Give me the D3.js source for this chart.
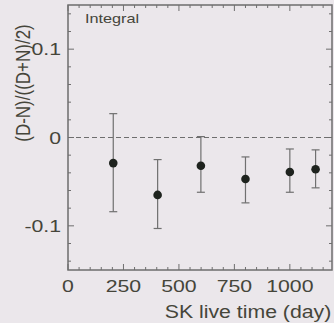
<!DOCTYPE html>
<html>
<head>
<meta charset="utf-8">
<script src="https://cdn.jsdelivr.net/npm/d3@7"></script>
<style>
  html, body { margin: 0; padding: 0; background: #ebe7eb; }
  svg { display: block; }
</style>
</head>
<body>
<script>
// data
const days = [204, 404, 599, 800, 1000, 1116];
const asym = [-0.029, -0.065, -0.032, -0.047, -0.039, -0.036];
const errHi = [0.027, -0.025, 0.001, -0.022, -0.013, -0.014];
const errLo = [-0.084, -0.103, -0.062, -0.074, -0.062, -0.057];
const xTicks = [0, 250, 500, 750, 1000];
const yTicks = [-0.1, 0, 0.1];
const yTickLabels = ["-0.1", "0", "0.1"];

const width = 334, height = 323;
const plotL = 68, plotR = 332, plotT = 5, plotB = 270;
const ink = "#45453a", frame = "#6e6e6e";
const stretch = 1.25; // the original type is wider than it is tall

const svg = d3.select("body").append("svg")
  .attr("width", width)
  .attr("height", height)
  .style("font-family", "'Liberation Sans', Arial, sans-serif");

const x = d3.scaleLinear().domain([0, 1190]).range([plotL, plotR]);
const y = d3.scaleLinear().domain([-0.15, 0.15]).range([plotB, plotT]);

// frame
svg.append("rect")
  .attr("x", plotL).attr("y", plotT)
  .attr("width", plotR - plotL).attr("height", plotB - plotT)
  .attr("fill", "none").attr("stroke", frame).attr("stroke-width", 1.5);

// ticks (inside, all four sides)
const xMinor = d3.range(0, 1190, 50);
const yMinor = d3.range(-0.14, 0.15, 0.02);
const tickG = svg.append("g").attr("stroke", frame).attr("stroke-width", 1);
xMinor.forEach(v => {
  const len = v % 250 === 0 ? 6 : 3;
  tickG.append("line").attr("x1", x(v)).attr("x2", x(v)).attr("y1", plotB).attr("y2", plotB - len);
  tickG.append("line").attr("x1", x(v)).attr("x2", x(v)).attr("y1", plotT).attr("y2", plotT + len);
});
yMinor.forEach(v => {
  const major = Math.abs(Math.round(v * 10) - v * 10) < 1e-6;
  const len = major ? 6 : 3;
  tickG.append("line").attr("y1", y(v)).attr("y2", y(v)).attr("x1", plotL).attr("x2", plotL + len);
  tickG.append("line").attr("y1", y(v)).attr("y2", y(v)).attr("x1", plotR).attr("x2", plotR - len);
});

// tick labels
svg.append("g").selectAll("text")
  .data(xTicks)
  .join("text")
  .attr("transform", d => `translate(${x(d)},291.5) scale(${stretch},1)`)
  .attr("text-anchor", "middle")
  .attr("font-size", 17)
  .attr("fill", ink)
  .text(d => d);

svg.append("g").selectAll("text")
  .data(yTicks)
  .join("text")
  .attr("transform", d => `translate(61,${y(d) + 6}) scale(${stretch},1)`)
  .attr("text-anchor", "end")
  .attr("font-size", 17)
  .attr("fill", ink)
  .text((d, i) => yTickLabels[i]);

// zero line
svg.append("line")
  .attr("x1", plotL).attr("x2", plotR)
  .attr("y1", y(0)).attr("y2", y(0))
  .attr("stroke", frame).attr("stroke-width", 1.2)
  .attr("stroke-dasharray", "5,3");

// error bars and points
const pts = days.map((d, i) => ({ d, v: asym[i], hi: errHi[i], lo: errLo[i] }));
const eb = svg.append("g").attr("stroke", "#707070").attr("stroke-width", 1.2);
pts.forEach(p => {
  eb.append("line").attr("x1", x(p.d)).attr("x2", x(p.d)).attr("y1", y(p.hi)).attr("y2", y(p.lo));
  eb.append("line").attr("x1", x(p.d) - 4).attr("x2", x(p.d) + 4).attr("y1", y(p.hi)).attr("y2", y(p.hi));
  eb.append("line").attr("x1", x(p.d) - 4).attr("x2", x(p.d) + 4).attr("y1", y(p.lo)).attr("y2", y(p.lo));
});
svg.append("g").selectAll("circle")
  .data(pts)
  .join("circle")
  .attr("cx", p => x(p.d))
  .attr("cy", p => y(p.v))
  .attr("r", 4.3)
  .attr("fill", "#1e231e");

// labels
svg.append("text")
  .attr("transform", `translate(85,23) scale(${stretch},1)`)
  .attr("font-size", 13)
  .attr("fill", ink)
  .text("Integral");

svg.append("text")
  .attr("transform", "translate(248,317.5) scale(1.15,1)")
  .attr("text-anchor", "middle")
  .attr("font-size", 18.5)
  .attr("fill", ink)
  .text("SK live time (day)");

svg.append("text")
  .attr("transform", "translate(30,83) rotate(-90) scale(1,1.22)")
  .attr("text-anchor", "middle")
  .attr("font-size", 17)
  .attr("fill", ink)
  .text("(D-N)/((D+N)/2)");
</script>
</body>
</html>
